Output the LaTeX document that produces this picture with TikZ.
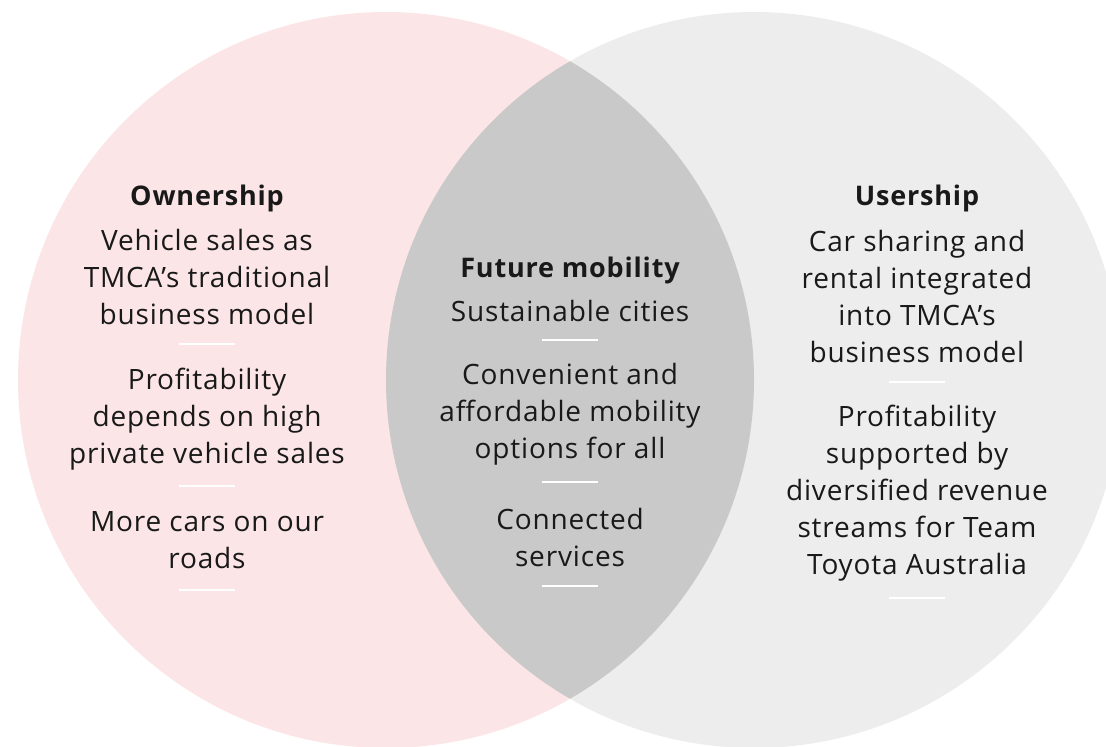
\documentclass[tikz,border=0pt]{standalone}
\usepackage{fontspec}
\setmainfont{Open Sans}[LetterSpace=3]
\definecolor{pinkc}{RGB}{252,229,231}
\definecolor{grayc}{RGB}{237,237,237}
\definecolor{lensc}{RGB}{201,201,201}
\definecolor{txt}{RGB}{25,25,25}
\tikzset{
  body/.style={align=center, text=txt, inner sep=0pt, font=\fontsize{28}{37}\selectfont},
  head/.style={align=center, text=txt, inner sep=0pt, font=\fontsize{27}{32}\selectfont\bfseries},
  sepline/.style={draw=white, line width=1.6pt}
}
\begin{document}
\begin{tikzpicture}[x=1pt,y=-1pt]
\useasboundingbox (0,0) rectangle (1106,747);
\clip (0,0) rectangle (1106,747);
\fill[grayc] (754,380) circle (368);
\fill[pinkc] (386,380) circle (368);
\begin{scope}
  \clip (386,380) circle (368);
  \fill[lensc] (754,380) circle (368);
\end{scope}
% left
\node[head] (own) at (207,198) {Ownership};
\node[body] (o1) at (207,277) {Vehicle sales as\\TMCA’s traditional\\business model};
\draw[sepline] (179,344) -- (235,344);
\node[body] (o2) at (207,419) {Profitability\\depends on high\\private vehicle sales};
\draw[sepline] (179,486) -- (235,486);
\node[body] (o3) at (207,540) {More cars on our\\roads};
\draw[sepline] (179,590) -- (235,590);
% middle
\node[head] (fut) at (570,270) {Future mobility};
\node[body] (m1) at (570,311) {Sustainable cities};
\draw[sepline] (542,340) -- (598,340);
\node[body] (m2) at (570,414) {Convenient and\\affordable mobility\\options for all};
\draw[sepline] (542,482) -- (598,482);
\node[body] (m3) at (570,537) {Connected\\services};
\draw[sepline] (542,586) -- (598,586);
% right
\node[head] (use) at (917,198) {Usership};
\node[body] (u1) at (917,296) {Car sharing and\\rental integrated\\into TMCA’s\\business model};
\draw[sepline] (889,382) -- (945,382);
\node[body] (u2) at (917,493) {Profitability\\supported by\\diversified revenue\\streams for Team\\Toyota Australia};
\draw[sepline] (889,598) -- (945,598);
\end{tikzpicture}
\end{document}
